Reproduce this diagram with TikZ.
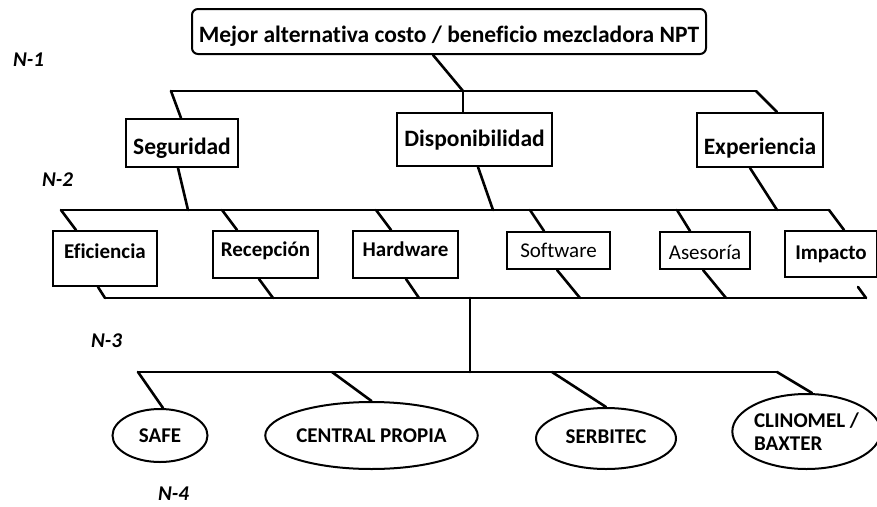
\documentclass[tikz,border=0pt]{standalone}
\usepackage{fontspec}
\setmainfont{Carlito}[Ligatures=CommonOff]
\usetikzlibrary{shapes.geometric}
\tikzset{
  box/.style={draw, line width=2pt, inner sep=0pt, text height=13.3pt, text depth=0pt, font=\bfseries\fontsize{21}{24}\selectfont},
  rbox/.style={box, rounded corners=6pt, text height=14.85pt, font=\bfseries\fontsize{23.5}{26}\selectfont},
  lbox/.style={box, text height=14.85pt, font=\bfseries\fontsize{23.5}{26}\selectfont},
  oval/.style={draw, ellipse, line width=2pt, inner sep=0pt, text height=13.3pt, text depth=0pt, font=\bfseries\fontsize{21}{24}\selectfont},
  lvl/.style={inner sep=0pt, text height=13.3pt, text depth=0pt, font=\bfseries\itshape\fontsize{21}{24}\selectfont},
  wire/.style={line width=2.6pt, line cap=round, line join=round},
}
\begin{document}
\begin{tikzpicture}[x=1pt,y=-1pt]
\useasboundingbox (0,0) rectangle (877,506);
% level labels
\node[lvl] (n1) at (28.5,59.5) {N-1};
\node[lvl] (n2) at (57.5,180) {N-2};
\node[lvl] (n3) at (106.5,340.5) {N-3};
\node[lvl] (n4) at (173.5,493.5) {N-4};
% top
\node[rbox, minimum width=514pt, minimum height=45pt] (top) at (449,31.5) {\raisebox{-4pt}{Mejor alternativa costo / beneficio mezcladora NPT}};
% level 2
\node[lbox, minimum width=112pt, minimum height=48pt] (seg) at (182,143) {\raisebox{-3.7pt}{Seguridad}};
\node[lbox, minimum width=155pt, minimum height=53pt] (disp) at (474.5,139.5) {Disponibilidad};
\node[lbox, minimum width=126pt, minimum height=54pt] (exp) at (760,140) {\raisebox{-7pt}{Experiencia}};
% level 3
\node[box, minimum width=104pt, minimum height=55pt] (efi) at (105,258.5) {\raisebox{6.5pt}{Eficiencia}};
\node[box, minimum width=105pt, minimum height=47pt] (rec) at (265.5,254.5) {\raisebox{4.5pt}{Recepción}};
\node[box, minimum width=105pt, minimum height=47pt] (hard) at (405.5,254.5) {\raisebox{4.2pt}{Hardware}};
\node[box, minimum width=103pt, minimum height=37pt, font=\fontsize{21}{24}\selectfont] (soft) at (558.5,250.5) {Software};
\node[box, minimum width=90pt, minimum height=37pt, font=\fontsize{21}{24}\selectfont] (ases) at (705,250.5) {\raisebox{-2.3pt}{Asesoría}};
\node[box, minimum width=92pt, minimum height=46pt] (imp) at (831,254) {\raisebox{1.5pt}{Impacto}};
% level 4
\node[oval, minimum width=95pt, minimum height=53pt] (safe) at (160,435.5) {SAFE};
\node[oval, minimum width=185pt, minimum height=67pt] (central) at (371.5,435.5) {CENTRAL PROPIA};
\node[oval, minimum width=140pt, minimum height=61pt] (serb) at (606,438.5) {\raisebox{1.3pt}{SERBITEC}};
\node[oval, minimum width=143pt, minimum height=75pt, text height=, text depth=, align=left, font=\bfseries\fontsize{21}{24.3}\selectfont] (clin) at (806.5,431.5) {\raisebox{-2pt}{CLINOMEL /}\\BAXTER};
% junction coordinates
\coordinate (a0) at (463,91);
\coordinate (a1) at (171,91);
\coordinate (a2) at (756,91);
\coordinate (b1) at (61,210);
\coordinate (b2) at (829,210);
\coordinate (bs) at (188,210);
\coordinate (bd) at (493,210);
\coordinate (be) at (777,210);
\coordinate (bb1) at (222,210);
\coordinate (bb2) at (376,210);
\coordinate (bb3) at (530,210);
\coordinate (bb4) at (677,210);
\coordinate (c1) at (105,298);
\coordinate (c2) at (866,298);
\coordinate (ce) at (105,298);
\coordinate (cr) at (273,298);
\coordinate (ch) at (419,298);
\coordinate (cs) at (580,298);
\coordinate (ca) at (726,298);
\coordinate (cm) at (470,298);
\coordinate (ci) at (858,287);
\coordinate (d0) at (470,372);
\coordinate (d1) at (138,372);
\coordinate (d2) at (777,372);
\coordinate (dc) at (332,372);
\coordinate (ds) at (552,372);
% connectors level 1-2
\draw[wire] ([xshift=-16pt]top.south) -- (a0);
\draw[wire] (a1) -- (a2);
\draw[wire] (a1) -- ([xshift=-1pt]seg.north);
\draw[wire] (a0) -- ([xshift=-11.5pt]disp.north);
\draw[wire] (a2) -- ([xshift=17pt]exp.north);
% level 2-3
\draw[wire] ([xshift=-4pt]seg.south) -- (bs);
\draw[wire] ([xshift=3.5pt]disp.south) -- (bd);
\draw[wire] ([xshift=-10pt]exp.south) -- (be);
\draw[wire] (b1) -- (b2);
\draw[wire] (b1) -- ([xshift=-29pt]efi.north);
\draw[wire] (bb1) -- ([xshift=-28.5pt]rec.north);
\draw[wire] (bb2) -- ([xshift=-14.5pt]hard.north);
\draw[wire] (bb3) -- ([xshift=-14.5pt]soft.north);
\draw[wire] (bb4) -- ([xshift=-15pt]ases.north);
\draw[wire] (b2) -- ([xshift=13pt]imp.north);
% level 3 bottom
\draw[wire] ([xshift=-7pt]efi.south) -- (ce);
\draw[wire] ([xshift=-6.5pt]rec.south) -- (cr);
\draw[wire] ([xshift=0.5pt]hard.south) -- (ch);
\draw[wire] ([xshift=-1.5pt]soft.south) -- (cs);
\draw[wire] ([xshift=-2pt]ases.south) -- (ca);
\draw[wire] (ci) -- (c2);
\draw[wire] (c1) -- (c2);
\draw[wire] (cm) -- (d0);
% level 4
\draw[wire] (d1) -- (d2);
\draw[wire] (d1) -- ([xshift=3pt]safe.north);
\draw[wire] (dc) -- (central.north);
\draw[wire] (ds) -- (serb.north);
\draw[wire] (d2) -- ([xshift=5.5pt]clin.north);
\end{tikzpicture}
\end{document}
